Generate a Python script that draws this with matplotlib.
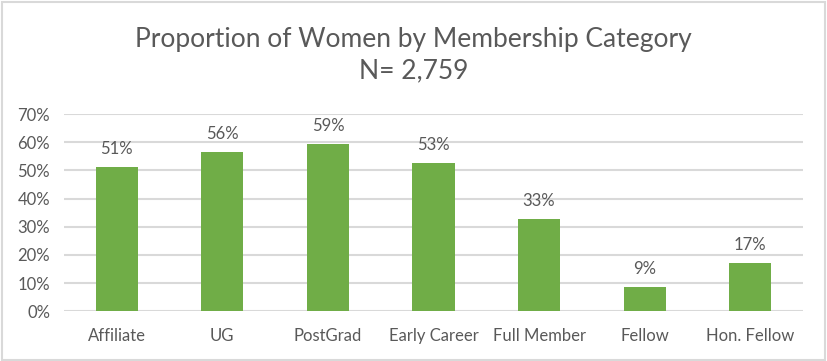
import matplotlib.pyplot as plt
from matplotlib.patches import Rectangle
from matplotlib.ticker import PercentFormatter

categories = ["Affiliate", "UG", "PostGrad", "Early Career", "Full Member", "Fellow", "Hon. Fellow"]
women_share = [51.2, 56.5, 59.3, 52.6, 32.7, 8.6, 17.1]
bar_labels = ["51%", "56%", "59%", "53%", "33%", "9%", "17%"]
y_ticks = [0, 10, 20, 30, 40, 50, 60, 70]

plt.rcParams['font.family'] = ['Lato', 'DejaVu Sans']
text_grey = '#595959'

fig = plt.figure(figsize=(8.27, 3.61), dpi=100)
ax = fig.add_axes([0.0774, 0.1377, 0.8936, 0.5463])

bars = ax.bar(categories, women_share, width=0.4, color='#70AD47', zorder=3)
for b, lab in zip(bars, bar_labels):
    ax.annotate(lab, (b.get_x() + b.get_width() / 2, b.get_height()),
                xytext=(0, 7), textcoords='offset points', ha='center', va='bottom',
                fontsize=12, color=text_grey)

ax.set_ylim(0, 70)
ax.set_xlim(-0.5, len(categories) - 0.5)
ax.set_yticks(y_ticks)
ax.yaxis.set_major_formatter(PercentFormatter(decimals=0))
ax.grid(axis='y', color='#D9D9D9', linewidth=1.5, zorder=0)
ax.tick_params(axis='both', length=0, labelsize=12, labelcolor=text_grey)
ax.tick_params(axis='y', pad=10)
ax.tick_params(axis='x', pad=12)
for s in ax.spines.values():
    s.set_visible(False)

fig.text(0.5, 0.848, "Proportion of Women by Membership Category\nN= 2,759",
         ha='center', va='center', fontsize=19, fontweight='normal',
         color=text_grey, linespacing=1.3)

fig.patches.append(Rectangle((0.002, 0.003), 0.995, 0.992, transform=fig.transFigure,
                             fill=False, edgecolor='#D9D9D9', linewidth=1.5))

fig.savefig('out.png', dpi=100)
